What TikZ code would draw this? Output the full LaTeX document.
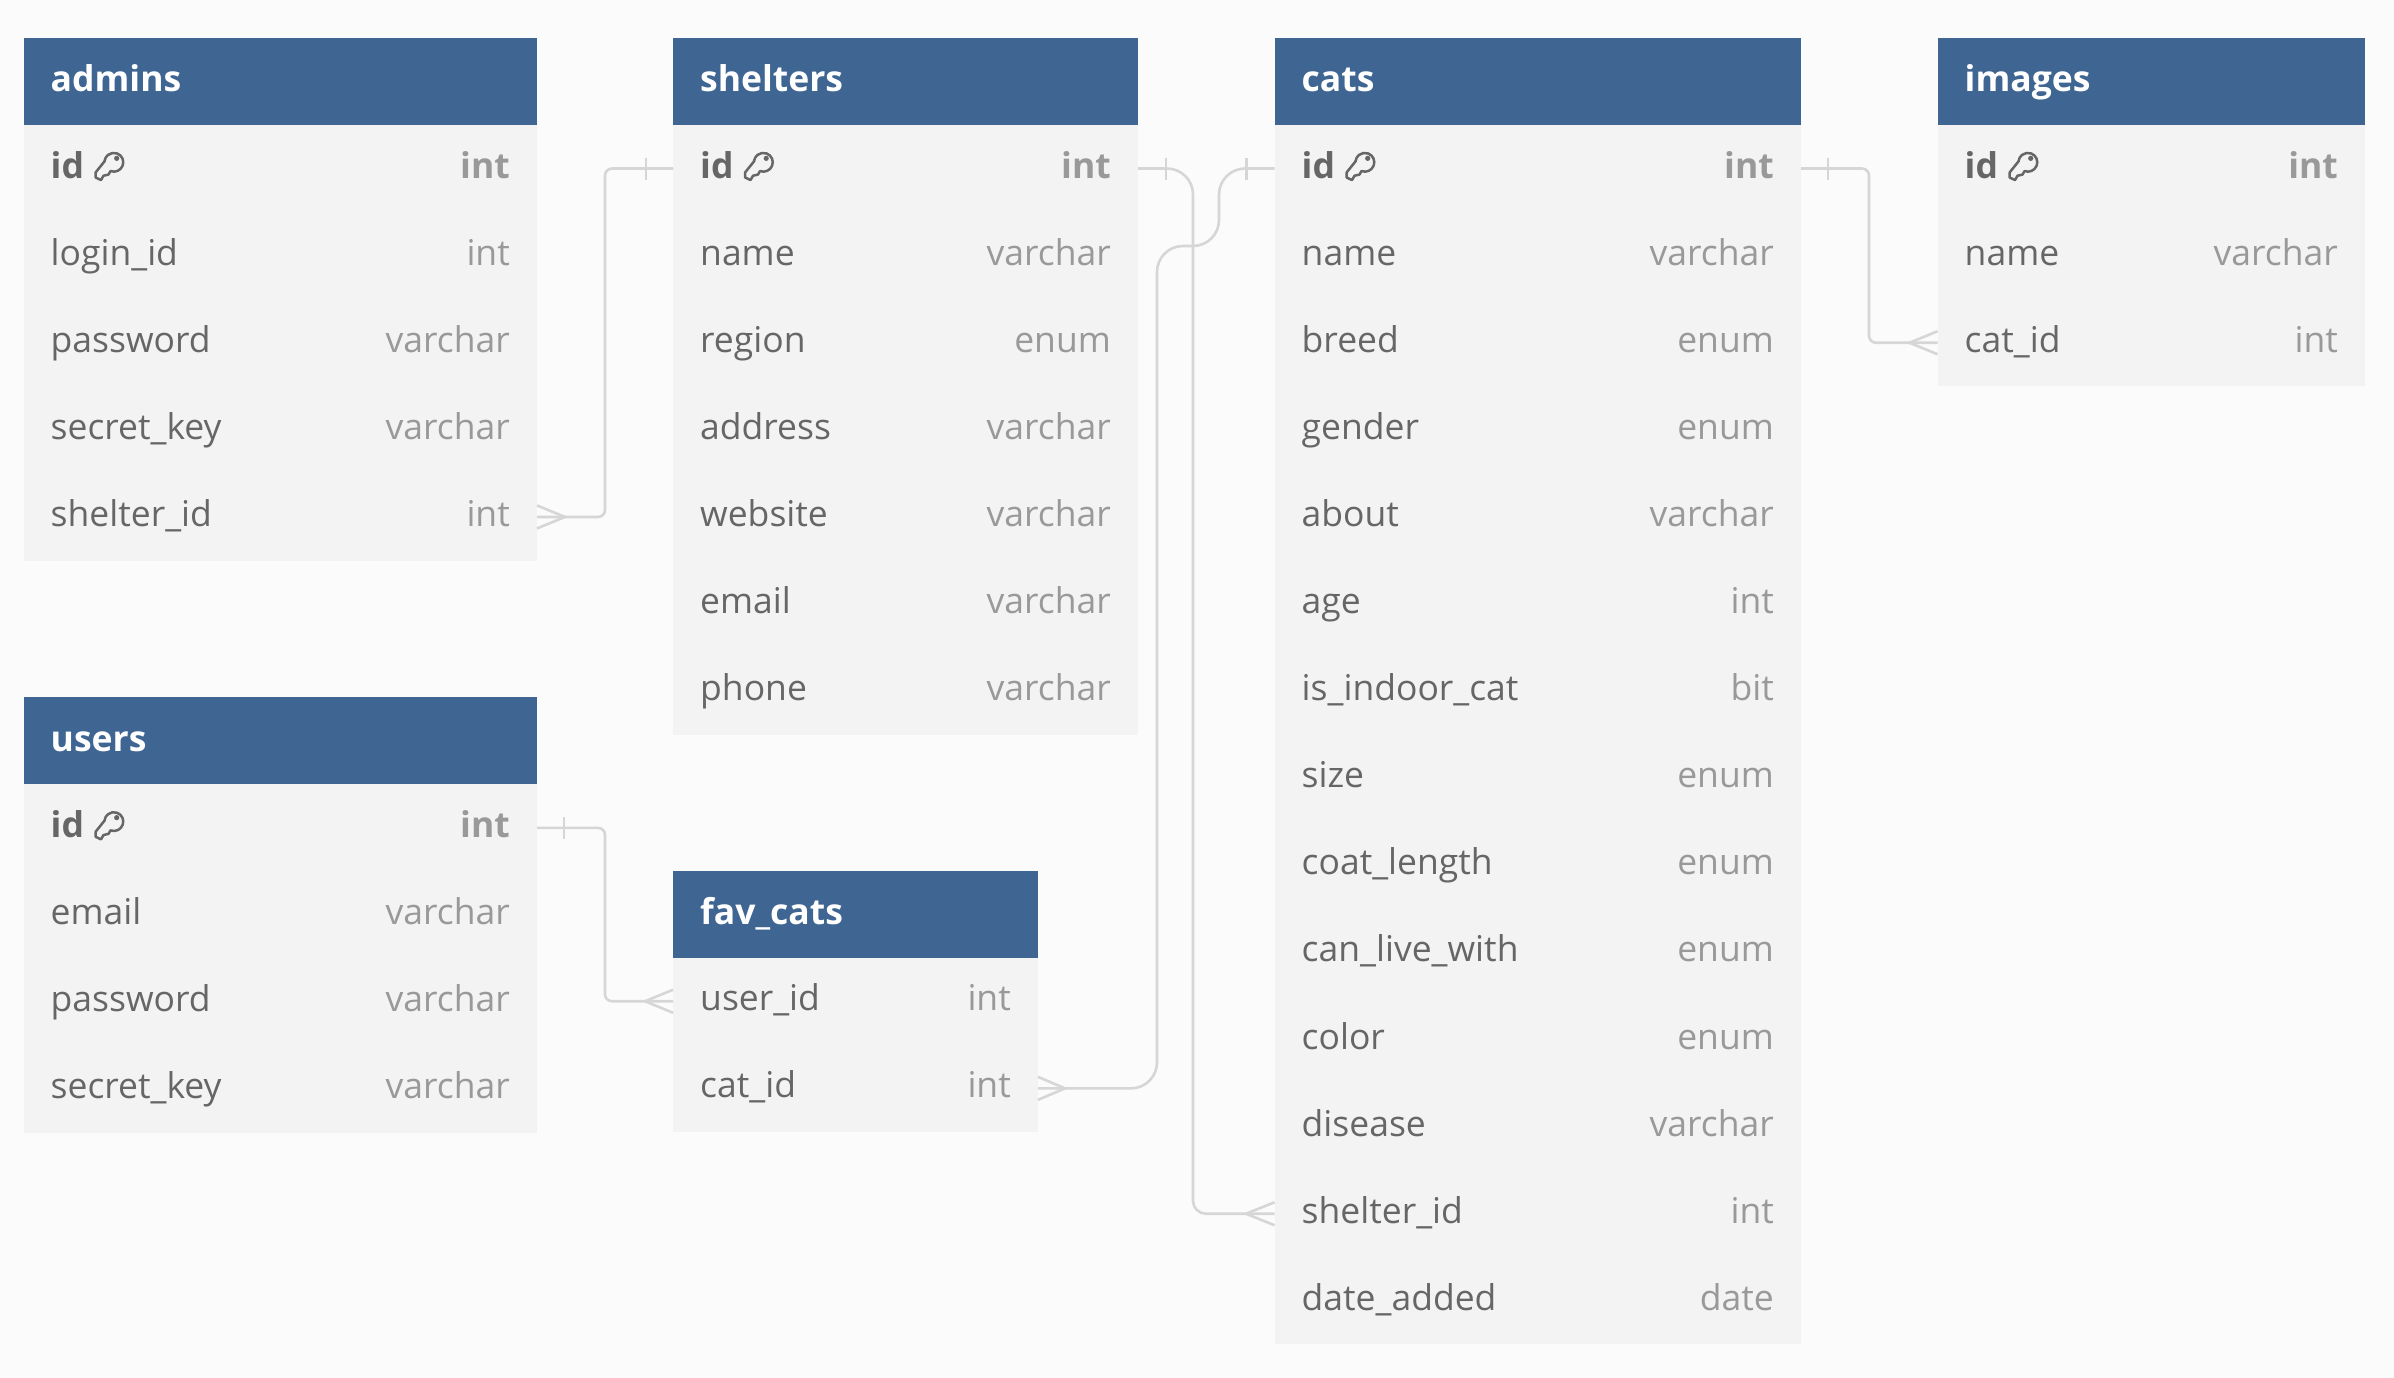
\documentclass[tikz,border=0pt]{standalone}
\usepackage{fontspec}
\setmainfont{Open Sans}
\definecolor{bgpage}{HTML}{FBFBFB}
\definecolor{rowfill}{HTML}{F3F3F3}
\definecolor{headfill}{HTML}{3F6592}
\definecolor{nametext}{HTML}{666666}
\definecolor{typetext}{HTML}{999999}
\definecolor{relline}{HTML}{D6D6D6}
\tikzset{
  headbox/.style={rectangle,fill=headfill,inner sep=0pt,outer sep=0pt,anchor=north west,minimum height=87pt},
  rowbox/.style={rectangle,fill=rowfill,inner sep=0pt,outer sep=0pt,anchor=north west,minimum height=87.1pt},
  headtext/.style={inner sep=0pt,anchor=base west,text=white,font=\erdfont\bfseries},
  nametxt/.style={inner sep=0pt,anchor=base west,text=nametext,font=\erdfont},
  typetxt/.style={inner sep=0pt,anchor=base east,text=typetext,font=\erdfont},
  rel/.style={draw=relline,line width=2.6pt},
  keyicon/.style={draw=nametext,line width=2.5pt,line join=round}
}
\newcommand{\erdfont}{\fontsize{35.5pt}{44pt}\selectfont}
% name, x, top, width, has-key flag, rows
\newcommand{\erdtable}[6]{%
  \node[headbox,minimum width=#4pt] (#1-head) at (#2,#3) {};
  \node[headtext] (#1-title) at ([xshift=27pt,yshift=-10.5pt]#1-head.west) {#1};
  \foreach \n/\t [count=\i from 0] in {#6} {
    \pgfmathsetmacro\yy{#3+87+\i*87.1}
    \node[rowbox,minimum width=#4pt] (#1-\n) at (#2,\yy) {};
    \ifnum\i=0 \ifnum#5=1
      \node[nametxt,font=\erdfont\bfseries] (#1-\n-name) at ([xshift=27pt,yshift=-9.5pt]#1-\n.west) {\n};
      \node[typetxt,font=\erdfont\bfseries] (#1-\n-type) at ([xshift=-27pt,yshift=-9.5pt]#1-\n.east) {\t};
      \begin{scope}[shift={(#1-\n.west)},x=1pt,y=1pt]
        \draw[keyicon] (81.5,7.8) -- (72.2,-3.8) -- (72.2,-9) -- (77.5,-11.5) -- (80,-7.2) -- (85,-6) -- (87,-2.5)
          arc[start angle=-111,end angle=172,radius=9.4];
        \fill[nametext] (93.2,10.2) circle[radius=2.6];
      \end{scope}
    \else
      \node[nametxt] (#1-\n-name) at ([xshift=27pt,yshift=-9.5pt]#1-\n.west) {\n};
      \node[typetxt] (#1-\n-type) at ([xshift=-27pt,yshift=-9.5pt]#1-\n.east) {\t};
    \fi \else
      \node[nametxt] (#1-\n-name) at ([xshift=27pt,yshift=-9.5pt]#1-\n.west) {\n};
      \node[typetxt] (#1-\n-type) at ([xshift=-27pt,yshift=-9.5pt]#1-\n.east) {\t};
    \fi
  }
}
% "one" tick and "many" crow's foot; #1 anchor, #2 signed distance from the table
\newcommand{\relone}[2]{\draw[rel] ([xshift=#2pt,yshift=11pt]#1) -- ([xshift=#2pt,yshift=-11pt]#1);}
\newcommand{\relmany}[2]{\draw[rel] ([yshift=11.5pt]#1) -- ([xshift=#2pt]#1) -- ([yshift=-11.5pt]#1);}
\catcode`\_=12
\begin{document}
\begin{tikzpicture}[x=1pt,y=-1pt]
  \useasboundingbox (0,0) rectangle (2394,1378);
  \fill[bgpage] (0,0) rectangle (2394,1378);

  \erdtable{admins}{23.5}{38}{513.5}{1}{id/int,login_id/int,password/varchar,secret_key/varchar,shelter_id/int}
  \erdtable{shelters}{673}{38}{465}{1}{id/int,name/varchar,region/enum,address/varchar,website/varchar,email/varchar,phone/varchar}
  \erdtable{cats}{1274.5}{38}{526.5}{1}{id/int,name/varchar,breed/enum,gender/enum,about/varchar,age/int,is_indoor_cat/bit,size/enum,coat_length/enum,can_live_with/enum,color/enum,disease/varchar,shelter_id/int,date_added/date}
  \erdtable{images}{1937.5}{38}{427.5}{1}{id/int,name/varchar,cat_id/int}
  \erdtable{users}{23.5}{697.3}{513.5}{1}{id/int,email/varchar,password/varchar,secret_key/varchar}
  \erdtable{fav_cats}{673}{870.7}{365}{0}{user_id/int,cat_id/int}

  \coordinate (laneleft) at (605,0);
  \coordinate (lanecatsin) at (1193,0);
  \coordinate (lanefavdown) at (1157,0);
  \coordinate (lanefavup) at (1219,0);
  \coordinate (laneimg) at (1869,0);
  \coordinate (jog) at (0,246);

  % admins.shelter_id > shelters.id
  \draw[rel,rounded corners=7pt] (shelters-id.west) -- (laneleft |- shelters-id.west) -- (laneleft |- admins-shelter_id.east) -- (admins-shelter_id.east);
  \relone{shelters-id.west}{-27}
  \relmany{admins-shelter_id.east}{28}

  % users.id < fav_cats.user_id
  \draw[rel,rounded corners=7pt] (users-id.east) -- (laneleft |- users-id.east) -- (laneleft |- fav_cats-user_id.west) -- (fav_cats-user_id.west);
  \relone{users-id.east}{27}
  \relmany{fav_cats-user_id.west}{-28}

  % shelters.id < cats.shelter_id
  \draw[rel,rounded corners=26pt] (shelters-id.east) -- (lanecatsin |- shelters-id.east) [rounded corners=13pt] -- (lanecatsin |- cats-shelter_id.west) -- (cats-shelter_id.west);
  \relone{shelters-id.east}{28}
  \relmany{cats-shelter_id.west}{-28.5}

  % fav_cats.cat_id > cats.id
  \draw[rel,rounded corners=26pt] (cats-id.west) -- (lanefavup |- cats-id.west) -- (lanefavup |- jog) -- (lanefavdown |- jog) -- (lanefavdown |- fav_cats-cat_id.east) -- (fav_cats-cat_id.east);
  \relone{cats-id.west}{-28}
  \relmany{fav_cats-cat_id.east}{27}

  % cats.id < images.cat_id
  \draw[rel,rounded corners=7pt] (cats-id.east) -- (laneimg |- cats-id.east) -- (laneimg |- images-cat_id.west) -- (images-cat_id.west);
  \relone{cats-id.east}{27}
  \relmany{images-cat_id.west}{-28}
\end{tikzpicture}
\end{document}
